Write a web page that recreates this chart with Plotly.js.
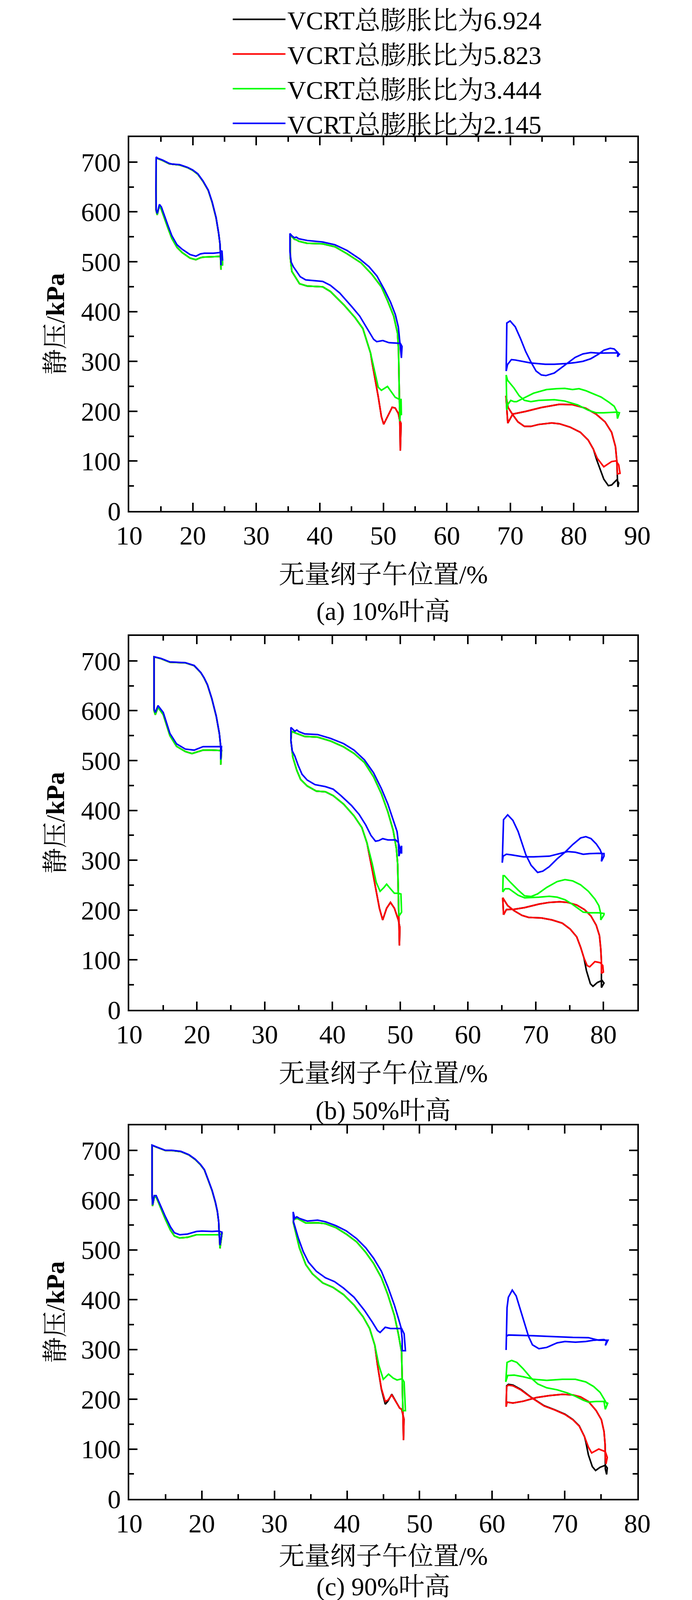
<!DOCTYPE html>
<html>
<head>
<meta charset="utf-8">
<script src="https://cdn.plot.ly/plotly-3.0.1.min.js"></script>
<style>
  html, body { margin: 0; padding: 0; background: #fff; overflow: hidden; }
  #chart { width: 1772px; height: 4172px; }
</style>
</head>
<body>
<div id="chart"></div>
<script>
  // series names (legend)
  var seriesNames = ['VCRT总膨胀比为6.924', 'VCRT总膨胀比为5.823', 'VCRT总膨胀比为3.444', 'VCRT总膨胀比为2.145'];
  var seriesColors = ['#000000', '#ff0000', '#00ff00', '#0000ff'];
  var captions = ['(a) 10%叶高', '(b) 50%叶高', '(c) 90%叶高'];
  var xRanges = [[10, 90], [10, 85], [10, 80]];

  // ---------- (a) 10% span : [x %, p kPa] ----------
  var a1Blue = [[24.45,493],[24.38,518],[24.28,536.6],[24.07,557.5],[23.67,588.9],[23.05,620.2],[22.44,643.7],[21.62,662],[20.8,676.4],[19.98,684.2],[19.16,689.4],[17.93,694.7],[16.7,696],[16.29,697.3],[15.26,703.8],[14.45,707.7],[14.24,710.3],[14.2,646],[14.24,604.5],[14.4,596.7],[14.75,615],[15.06,609.8],[15.47,594.1],[16.08,573.2],[16.7,552.3],[17.52,534],[18.34,524.9],[19.57,514.4],[20.49,511],[21.2,515.7],[21.82,517],[23.25,517],[24.18,518.3],[24.6,522],[24.7,502]];
  var a1Green = [[24.45,484],[24.38,516],[24.28,536],[24.07,557],[23.67,588],[23.05,619],[22.44,643],[21.62,661],[20.8,675.5],[19.98,683.5],[19.16,688.8],[17.93,694],[16.7,695.5],[16.29,696.5],[15.26,703],[14.45,707],[14.24,709.5],[14.2,646],[14.22,603],[14.4,594],[14.75,613],[15.06,604.5],[15.47,588.9],[16.08,568],[16.7,547],[17.52,528.8],[18.34,518.3],[19.57,507.4],[20.49,504],[21.2,508],[21.62,509.2],[23.25,510],[24.18,510.5],[24.6,512],[24.7,492]];
  var a2Blue = [[35.3,520],[35.3,556.6],[35.6,552],[36.0,548],[36.3,549.4],[36.7,546],[38.03,542.6],[40.46,539.5],[42.4,534],[44.3,522.5],[46.3,505.4],[47.75,490],[49.0,471.3],[50.2,443.4],[51.15,418.7],[51.9,393.9],[52.37,369],[52.6,335],[52.85,307],[52.95,330],[52.7,336],[52.37,336.5],[50.9,337.5],[49.93,341.8],[48.96,339.6],[48.48,344.3],[47.26,370.6],[46.29,390.8],[45.07,409.4],[43.13,437.3],[41.67,452.7],[40.46,460.5],[37.78,463.6],[36.93,469.8],[35.84,490],[35.5,499.2],[35.3,520]];
  var a2Green = [[35.35,508.5],[35.35,550],[35.5,552],[36.0,545],[36.3,544],[36.7,541],[38.0,537],[40.46,535.8],[42.4,530],[44.3,516],[46.5,497.7],[48.23,474.4],[49.7,449.6],[50.67,421.8],[51.64,390.8],[52.24,356.7],[52.4,322.6],[52.5,260.6],[52.56,223.4],[52.6,180],[52.8,225],[52.85,192],[52.6,223.4],[51.88,228],[50.66,249.8],[49.7,242],[49.2,248.2],[48.0,316.4],[46.78,366],[45.56,387.7],[43.86,412.5],[41.67,440.3],[40.46,449.6],[38.0,451.2],[36.81,455.8],[35.6,480.6],[35.35,508.5]];
  var a2Red = [[35.35,508.5],[35.35,550],[35.5,552],[36.0,545],[36.3,544],[36.7,541],[38.0,537],[40.46,535.8],[42.4,530],[44.3,516],[46.5,497.7],[48.23,474.4],[49.7,449.6],[50.67,421.8],[51.64,390.8],[52.24,356.7],[52.4,322.6],[52.5,260.6],[52.56,223.4],[52.6,180],[52.68,121],[52.8,175],[52.56,183],[52.37,195.6],[51.88,206.4],[51.4,208],[50.66,189.3],[50.06,173.8],[49.7,189.3],[49.2,229.6],[48.23,297.8],[48.0,316.4],[46.78,366],[45.56,387.7],[43.86,412.5],[41.67,440.3],[40.46,449.6],[38.0,451.2],[36.81,455.8],[35.6,480.6],[35.35,508.5]];
  var a3Blue = [[69.35,280.6],[69.4,340],[69.45,377],[69.97,381.2],[70.78,369.4],[71.6,345.9],[72.42,319.8],[73.24,298.9],[74.06,280.6],[74.88,272.8],[75.6,271.5],[76.93,276.7],[78.16,288.4],[79.18,298.9],[80.21,308],[81.44,315.1],[82.67,317.7],[83.9,316.6],[85.13,316.6],[86.77,317.2],[87.17,314.5],[86.87,309.3],[86.97,317.2],[86.36,325],[85.74,326.3],[84.72,322.4],[83.9,314.5],[82.67,305.4],[81.44,300.2],[80.21,297.6],[78.98,295.8],[76.93,294.2],[75.5,294.2],[73.24,296.8],[70.78,302.8],[70.17,303.6],[69.56,293.7],[69.35,280.6]];
  var a3Green = [[69.45,202.2],[69.35,272.8],[69.56,262.3],[70.58,246.6],[71.4,231],[72.22,221.8],[73.24,219.2],[74.47,221.8],[76.93,223.1],[78.57,220.5],[80.62,212.7],[82.26,202.2],[83.49,197],[84.72,197],[86.77,198.3],[87.18,197],[86.87,185.2],[86.77,199.6],[86.36,210],[85.54,217.9],[84.31,228.4],[83.08,234.9],[81.85,241.4],[80.82,245.3],[79.8,243.5],[78.57,245.9],[77.34,245.3],[75.7,243.5],[73.65,236.2],[72.22,227.1],[70.99,219.2],[70.58,219.2],[70.07,221.8],[69.56,212.7],[69.45,202.2]];
  var a3Red = [[69.6,176.1],[70.38,194.4],[72.42,199.6],[74.88,207.5],[77.75,214],[79.8,213.2],[81.85,206.2],[83.49,194.4],[84.92,178.7],[85.95,157.8],[86.56,129.1],[86.77,100.4],[86.87,74.2],[87.28,75.5],[87.07,92.5],[86.66,100.4],[85.95,99.1],[84.72,88.6],[83.69,105.6],[83.08,123.9],[82.26,142.2],[81.03,157.8],[79.39,168.3],[77.75,174.8],[76.52,176.6],[74.47,173.5],[73.24,169.6],[72.22,169.6],[71.2,178.7],[70.38,193.1],[69.66,207.5],[69.31,231],[69.6,176.1]];
  var a3Black = [[69.6,176.1],[70.38,194.4],[72.42,199.6],[74.88,207.5],[77.75,214],[79.8,213.2],[81.85,206.2],[83.49,194.4],[84.92,178.7],[85.95,157.8],[86.56,129.1],[86.77,100.4],[86.87,63.8],[86.95,48.1],[87.07,56],[86.77,62.5],[85.95,52],[85.44,50.7],[84.72,63.8],[84.2,82],[83.59,103],[83.08,123.9],[82.26,142.2],[81.03,157.8],[79.39,168.3],[77.75,174.8],[76.52,176.6],[74.47,173.5],[73.24,169.6],[72.22,169.6],[71.2,178.7],[70.38,193.1],[69.66,207.5],[69.31,231],[69.6,176.1]];

  // ---------- (b) 50% span ----------
  var b1Blue = [[13.66,603.4],[13.66,708.3],[14.7,704.8],[16.0,697.8],[18.28,696.4],[19.58,690.8],[20.56,676.8],[21.05,666],[21.54,652.4],[22.19,624.4],[22.84,589.4],[23.3,554.5],[23.49,530],[23.5,502],[23.62,528],[22.19,527.9],[20.89,527.9],[19.58,520.9],[18.28,523],[16.98,533.5],[16.0,554.5],[15.02,596.4],[14.24,610.4],[13.85,596.4],[13.66,603.4]];
  var b1Green = [[13.66,600],[13.66,708],[14.7,704.3],[16.0,697.3],[18.28,696],[19.58,690.3],[20.56,676.3],[21.05,665.5],[21.54,651.8],[22.19,623.8],[22.84,588.8],[23.3,554],[23.49,529],[23.5,491.6],[23.62,520],[22.19,521],[20.89,520.9],[19.26,513.9],[18.28,518],[16.98,528.5],[16.0,550],[15.02,592],[14.24,607],[13.85,592],[13.66,600]];
  var b2Blue = [[33.86,540.4],[33.86,566.5],[34.15,562.6],[34.44,558.7],[34.73,561.3],[35.02,558.2],[35.88,553.5],[37.8,552.2],[39.73,544.4],[41.65,533.9],[43.18,520.9],[44.72,501.3],[46.07,475.2],[47.22,443.8],[48.18,412.5],[48.95,381.2],[49.53,357.7],[49.72,336.8],[49.81,308.1],[50.2,329],[50.2,313.3],[49.72,335.5],[49.33,340.7],[48.18,340.7],[47.41,343.3],[46.83,339.4],[46.35,338.1],[45.68,349.8],[44.91,370.7],[43.95,391.6],[42.8,409.9],[41.26,429.5],[40.11,442.5],[38.96,447.7],[37.42,451.7],[36.27,460.8],[35.5,472.5],[34.92,490.8],[34.44,509.1],[34.06,519.5],[33.86,540.4]];
  var b2Green = [[33.86,540.4],[33.96,558.7],[34.63,554.8],[35.88,548.3],[37.8,547],[39.73,539.1],[41.65,527.4],[43.18,514.3],[44.72,496],[46.07,467.4],[47.22,433.4],[48.18,396.8],[48.95,360.3],[49.43,323.7],[49.62,292.4],[49.72,240.2],[49.81,188],[50.2,195.8],[50.1,232.3],[49.72,233.7],[49.14,233.7],[48.56,242.8],[47.99,252],[47.6,245.4],[47.03,237.6],[46.45,255.9],[45.88,292.4],[45.1,334.2],[44.34,365.5],[43.18,389],[41.65,412.5],[40.11,429.5],[38.96,437.3],[37.61,438.6],[36.27,449],[35.3,462],[34.73,480.4],[34.15,506.5],[33.86,540.4]];
  var b2Red = [[33.86,540.4],[33.96,558.7],[34.63,554.8],[35.88,548.3],[37.8,547],[39.73,539.1],[41.65,527.4],[43.18,514.3],[44.72,496],[46.07,467.4],[47.22,433.4],[48.18,396.8],[48.95,360.3],[49.43,323.7],[49.62,292.4],[49.72,240.2],[49.8,180],[49.88,129],[49.95,165],[49.72,180.1],[49.14,203.6],[48.56,215.4],[47.99,203.6],[47.41,180.1],[46.93,203.6],[46.45,240.2],[45.88,279.4],[45.1,334.2],[44.34,365.5],[43.18,389],[41.65,412.5],[40.11,429.5],[38.96,437.3],[37.61,438.6],[36.27,449],[35.3,462],[34.73,480.4],[34.15,506.5],[33.86,540.4]];
  var b3Blue = [[65.06,295],[65.15,340],[65.25,381.2],[65.86,391.1],[66.63,379.9],[67.4,357.7],[67.98,334.2],[68.55,310.7],[69.32,289.8],[70.28,275.5],[71.05,278.1],[72.01,287.2],[73.17,302.9],[74.32,316],[75.47,331.6],[76.63,344.7],[77.4,347.3],[78.16,343.4],[78.93,332.9],[79.51,321.2],[79.8,310.7],[79.7,297.7],[80.08,308.1],[80.08,313.3],[79.32,313.9],[77.97,313.3],[77.01,312],[75.86,316],[74.7,317.3],[73.55,313.3],[72.01,308.1],[69.71,306.8],[68.17,306.8],[66.44,310.7],[65.67,312],[65.19,308.1],[65.06,295]];
  var b3Green = [[65.13,236.3],[65.19,269],[65.38,269],[66.25,255.9],[67.4,240.2],[68.36,228.5],[69.32,227.2],[70.28,232.4],[71.63,245.5],[73.17,257.2],[74.32,261.1],[75.47,258.5],[76.63,250.7],[77.78,237.6],[78.74,222],[79.32,208.9],[79.6,193.2],[79.6,180.2],[80.08,190.6],[80.08,193.2],[79.32,194.5],[77.97,194.5],[77.01,195.8],[76.24,203.7],[75.28,212.8],[74.32,220.7],[73.17,225.9],[72.01,227.7],[70.48,225.9],[68.36,224.6],[67.4,229.8],[66.06,242.8],[65.48,242.8],[65.13,236.3]];
  var b3Red = [[65.25,190.6],[65.67,201],[66.83,201.6],[68.36,205],[70.48,212],[72.01,215.4],[73.55,216.7],[74.7,215.4],[76.05,210.2],[77.2,201],[78.16,188],[78.93,169.7],[79.41,148.8],[79.6,122.7],[79.7,96.6],[79.7,73.1],[79.99,75.7],[79.9,88.8],[79.51,94.5],[78.74,96.6],[77.97,86.2],[77.59,88.8],[77.11,104.5],[76.63,125.4],[76.05,146.3],[75.09,161.9],[73.93,173.7],[72.4,180.2],[70.86,184.1],[68.94,185.4],[67.98,189.3],[66.83,198.5],[65.86,209],[65.13,224.6],[65.25,190.6]];
  var b3Black = [[65.25,190.6],[65.67,201],[66.83,201.6],[68.36,205],[70.48,212],[72.01,215.4],[73.55,216.7],[74.7,215.4],[76.05,210.2],[77.2,201],[78.16,188],[78.93,169.7],[79.41,148.8],[79.6,122.7],[79.7,96.6],[79.7,44.4],[80.08,53.5],[79.8,58.8],[79.12,54.8],[78.45,47],[78.07,52.2],[77.49,78.4],[77.11,104.5],[76.63,125.4],[76.05,146.3],[75.09,161.9],[73.93,173.7],[72.4,180.2],[70.86,184.1],[68.94,185.4],[67.98,189.3],[66.83,198.5],[65.86,209],[65.13,224.6],[65.25,190.6]];

  // ---------- (c) 90% span ----------
  var c1Blue = [[13.14,611.5],[13.14,710.4],[13.71,707],[14.97,699.9],[15.86,699.9],[17.12,697.8],[18.2,691.3],[19.09,682.1],[19.81,671.7],[20.35,661.2],[20.89,640.3],[21.42,619.3],[21.87,595.8],[22.14,577.5],[22.32,556.6],[22.37,535.6],[22.5,509.5],[22.77,535.6],[22.32,537.7],[21.42,537],[19.99,537.7],[19.27,537],[18.02,531.7],[16.94,530.4],[16.22,534.3],[15.68,546.1],[14.97,567],[14.25,590.6],[13.71,608.9],[13.44,608.9],[13.21,590.6],[13.14,611.5]];
  var c1Green = [[13.14,611.5],[13.14,710],[13.71,706.5],[14.97,699.5],[15.86,699.5],[17.12,697.3],[18.2,690.8],[19.09,681.5],[19.81,671],[20.35,660.5],[20.89,639.5],[21.42,618.5],[21.87,595],[22.14,577],[22.32,556],[22.37,535],[22.5,502.9],[22.77,532],[22.32,530.4],[21.42,530.4],[19.99,530.9],[19.27,530.4],[18.02,525.2],[16.94,523.8],[16.22,527.8],[15.68,539.5],[14.97,561.8],[14.25,586.6],[13.71,606.3],[13.44,606],[13.21,588],[13.14,611.5]];
  var c2Blue = [[32.63,556.5],[32.58,576.2],[32.81,563.1],[33.08,566.5],[33.44,563.1],[34.51,557.8],[35.95,559.7],[37.02,556.5],[38.46,548.7],[39.89,538.2],[41.33,522.5],[42.58,504.2],[43.66,483.3],[44.74,457.1],[45.63,425.7],[46.53,389.1],[47.07,362.9],[47.43,344.6],[47.6,321],[47.6,297.5],[48.05,297.5],[47.87,331.5],[47.52,342],[47.07,342],[45.99,342],[45.27,344.6],[44.56,334.1],[44.2,338.1],[43.48,355.1],[42.4,378.6],[40.97,404.8],[39.53,423.1],[38.28,436.2],[37.02,444],[35.77,457.1],[34.69,475.4],[33.97,496.4],[33.26,525.1],[32.63,556.5]];
  var c2Green = [[32.58,556.5],[32.72,561.8],[33.17,563.1],[34.33,553.9],[35.95,554.4],[37.02,552.6],[38.46,544.8],[39.89,531.7],[41.33,516],[42.58,495],[43.66,472.8],[44.74,444],[45.63,410],[46.53,368.2],[47.07,331.5],[47.52,294.9],[47.6,242.6],[47.69,177.2],[48.05,177.2],[47.87,234.7],[47.6,241.2],[46.89,238.6],[46.35,242.6],[45.72,250.4],[45.0,240],[44.38,268.7],[43.84,308],[43.12,342],[42.22,365.5],[40.97,389.1],[39.53,410],[38.1,424.4],[36.66,433.6],[35.23,451.9],[34.33,470.2],[33.44,504.2],[32.58,556.5]];
  var c2Red = [[32.58,556.5],[32.72,561.8],[33.17,563.1],[34.33,553.9],[35.95,554.4],[37.02,552.6],[38.46,544.8],[39.89,531.7],[41.33,516],[42.58,495],[43.66,472.8],[44.74,444],[45.63,410],[46.53,368.2],[47.07,331.5],[47.52,294.9],[47.6,242.6],[47.68,180],[47.78,118],[47.85,160],[47.52,179.8],[47.25,182.4],[46.71,195.5],[46.17,208.6],[45.63,198.1],[45.27,195.5],[44.74,221.6],[44.2,268.7],[43.84,308],[43.12,342],[42.22,365.5],[40.97,389.1],[39.53,410],[38.1,424.4],[36.66,433.6],[35.23,451.9],[34.33,470.2],[33.44,504.2],[32.58,556.5]];
  var c2Black = [[32.58,556.5],[32.72,561.8],[33.17,563.1],[34.33,553.9],[35.95,554.4],[37.02,552.6],[38.46,544.8],[39.89,531.7],[41.33,516],[42.58,495],[43.66,472.8],[44.74,444],[45.63,410],[46.53,368.2],[47.07,331.5],[47.52,294.9],[47.6,242.6],[47.68,180],[47.78,118],[47.85,160],[47.52,179.8],[47.25,182.4],[46.71,196],[46.17,210],[45.63,196],[45.27,190],[44.74,220],[44.2,268.7],[43.84,308],[43.12,342],[42.22,365.5],[40.97,389.1],[39.53,410],[38.1,424.4],[36.66,433.6],[35.23,451.9],[34.33,470.2],[33.44,504.2],[32.58,556.5]];
  var c3Blue = [[61.92,298.9],[62.0,350],[62.05,383.9],[62.23,404.8],[62.77,419.2],[63.31,407.4],[63.93,378.7],[64.47,352.5],[65.01,326.3],[65.55,309.3],[66.44,301.5],[67.52,304.1],[68.95,313.2],[70.03,315.9],[71.47,314.6],[72.9,315.9],[73.98,318.5],[75.41,319.8],[75.77,317.2],[75.59,308],[75.95,318.5],[74.69,318.5],[73.98,321.1],[73.26,323.7],[71.11,324.2],[69.31,325],[67.52,326.3],[65.73,327.6],[63.93,328.4],[62.23,329],[61.96,326.3]];
  var c3Green = [[61.87,234.8],[62.05,274],[62.68,277.9],[63.4,274],[64.29,260.9],[65.37,242.6],[66.27,230.8],[67.52,223],[68.95,219],[70.39,212.5],[71.47,206],[72.54,198.1],[73.26,194.2],[74.33,195.5],[75.41,195.5],[75.59,179.8],[75.95,192.9],[75.77,191.6],[75.41,200.7],[74.87,213.8],[73.98,225.6],[72.9,234.8],[71.47,240],[69.67,240],[67.52,237.9],[65.73,240],[64.29,245.2],[63.04,248.4],[62.14,247.8],[61.87,234.8]];
  var c3Red = [[61.92,185],[62.0,225.6],[62.23,228.2],[62.86,226.9],[63.93,219],[65.37,203.4],[67.16,186.3],[68.6,178.5],[70.03,169.3],[71.11,158.9],[72.0,145.8],[72.72,124.9],[73.26,103.9],[73.71,92.2],[74.69,100],[75.59,94.8],[75.86,83],[75.68,69.9],[75.59,83],[75.56,109.2],[75.41,135.3],[75.05,158.9],[74.33,177.2],[73.26,195.5],[72.18,204.7],[71.11,208.6],[69.67,209.9],[67.88,207.3],[66.09,203.4],[64.29,196],[62.86,192.4],[62.05,194.2],[61.92,185]];
  var c3Black = [[61.92,185],[62.0,227],[62.23,230],[62.86,228.5],[63.93,220],[65.37,204],[67.16,187],[68.6,179],[70.03,170],[71.11,159.5],[72.0,146.5],[72.72,124.9],[72.9,114.4],[73.26,88.2],[73.8,64.7],[74.25,56.9],[74.87,63.4],[75.59,67.3],[75.86,62],[75.77,49],[75.59,60],[75.59,83],[75.56,109.2],[75.41,135.3],[75.05,158.9],[74.33,177.2],[73.26,195.5],[72.18,204.7],[71.11,208.6],[69.67,209.9],[67.88,207.3],[66.09,203.4],[64.29,196],[62.86,192.4],[62.05,194.2],[61.92,185]];

  // black and red lie under green on the first rows, so they share those readings
  var panels = [
    [[a1Green, a2Red, a3Black], [a1Green, a2Red, a3Red], [a1Green, a2Green, a3Green], [a1Blue, a2Blue, a3Blue]],
    [[b1Green, b2Red, b3Black], [b1Green, b2Red, b3Red], [b1Green, b2Green, b3Green], [b1Blue, b2Blue, b3Blue]],
    [[c1Green, c2Black, c3Black], [c1Green, c2Red, c3Red], [c1Green, c2Green, c3Green], [c1Blue, c2Blue, c3Blue]]
  ];

  function toXY(rows) {
    var x = [], y = [];
    rows.forEach(function (row, i) {
      if (i > 0) { x.push(null); y.push(null); }
      row.forEach(function (p) { x.push(p[0]); y.push(p[1]); });
    });
    return {x: x, y: y};
  }

  var serif = "'Times New Roman', 'Liberation Serif', 'Noto Serif CJK SC', 'Noto Sans CJK SC', serif";

  var data = [];
  panels.forEach(function (panel, p) {
    var sfx = p === 0 ? '' : String(p + 1);
    panel.forEach(function (rows, s) {
      var xy = toXY(rows);
      data.push({
        x: xy.x,
        y: xy.y,
        type: 'scatter',
        mode: 'lines',
        name: seriesNames[s],
        legendgroup: 's' + s,
        showlegend: p === 0,
        connectgaps: false,
        line: {color: seriesColors[s], width: 4},
        xaxis: 'x' + sfx,
        yaxis: 'y' + sfx,
        hoverinfo: 'skip'
      });
    });
  });

  var xDomain = [331 / 1772, 1632 / 1772];
  var yDomains = [[1 - 1308 / 4172, 1 - 351 / 4172], [1 - 2585 / 4172, 1 - 1628 / 4172], [1 - 3837 / 4172, 1 - 2881 / 4172]];
  var captionY = [1 - 1565 / 4172, 1 - 2843 / 4172, 1 - 4062 / 4172];
  var titleStandoff = [40, 40, 24];

  function axisBase() {
    return {
      showline: true, linewidth: 4, linecolor: '#000', mirror: 'allticks',
      ticks: 'inside', ticklen: 21, tickwidth: 4, tickcolor: '#000',
      showgrid: false, zeroline: false,
      tickfont: {family: serif, size: 68, color: '#000'}
    };
  }

  var layout = {
    width: 1772,
    height: 4172,
    margin: {l: 0, r: 0, t: 0, b: 0},
    paper_bgcolor: '#fff',
    plot_bgcolor: '#fff',
    font: {family: serif, color: '#000'},
    showlegend: true,
    legend: {
      x: 0.3335, y: 1.0, xanchor: 'left', yanchor: 'top',
      itemwidth: 135,
      font: {family: serif, size: 66, color: '#000'},
      bgcolor: 'rgba(0,0,0,0)', tracegroupgap: 0
    },
    annotations: []
  };

  for (var p = 0; p < 3; p++) {
    var sfx = p === 0 ? '' : String(p + 1);
    var xa = axisBase();
    xa.domain = xDomain;
    xa.anchor = 'y' + sfx;
    xa.range = xRanges[p];
    xa.dtick = 10;
    xa.tick0 = 10;
    xa.minor = {ticks: 'inside', ticklen: 12, tickwidth: 4, tickcolor: '#000', dtick: 5};
    xa.ticklabelstandoff = 0;
    xa.title = {text: '无量纲子午位置/%', font: {family: serif, size: 66, color: '#000'}, standoff: titleStandoff[p]};
    var ya = axisBase();
    ya.domain = yDomains[p];
    ya.anchor = 'x' + sfx;
    ya.range = [0, 750];
    ya.dtick = 100;
    ya.tick0 = 0;
    ya.minor = {ticks: 'inside', ticklen: 12, tickwidth: 4, tickcolor: '#000', dtick: 50};
    ya.ticklabelstandoff = 4;
    ya.title = {text: '静压/<b>kPa</b>', font: {family: serif, size: 66, color: '#000'}, standoff: 22};
    layout['xaxis' + sfx] = xa;
    layout['yaxis' + sfx] = ya;
    layout.annotations.push({
      text: captions[p], xref: 'paper', yref: 'paper',
      x: (xDomain[0] + xDomain[1]) / 2, y: captionY[p],
      xanchor: 'center', yanchor: 'middle', showarrow: false,
      font: {family: serif, size: 66, color: '#000'}
    });
  }

  Plotly.newPlot('chart', data, layout, {staticPlot: true});
</script>
</body>
</html>
